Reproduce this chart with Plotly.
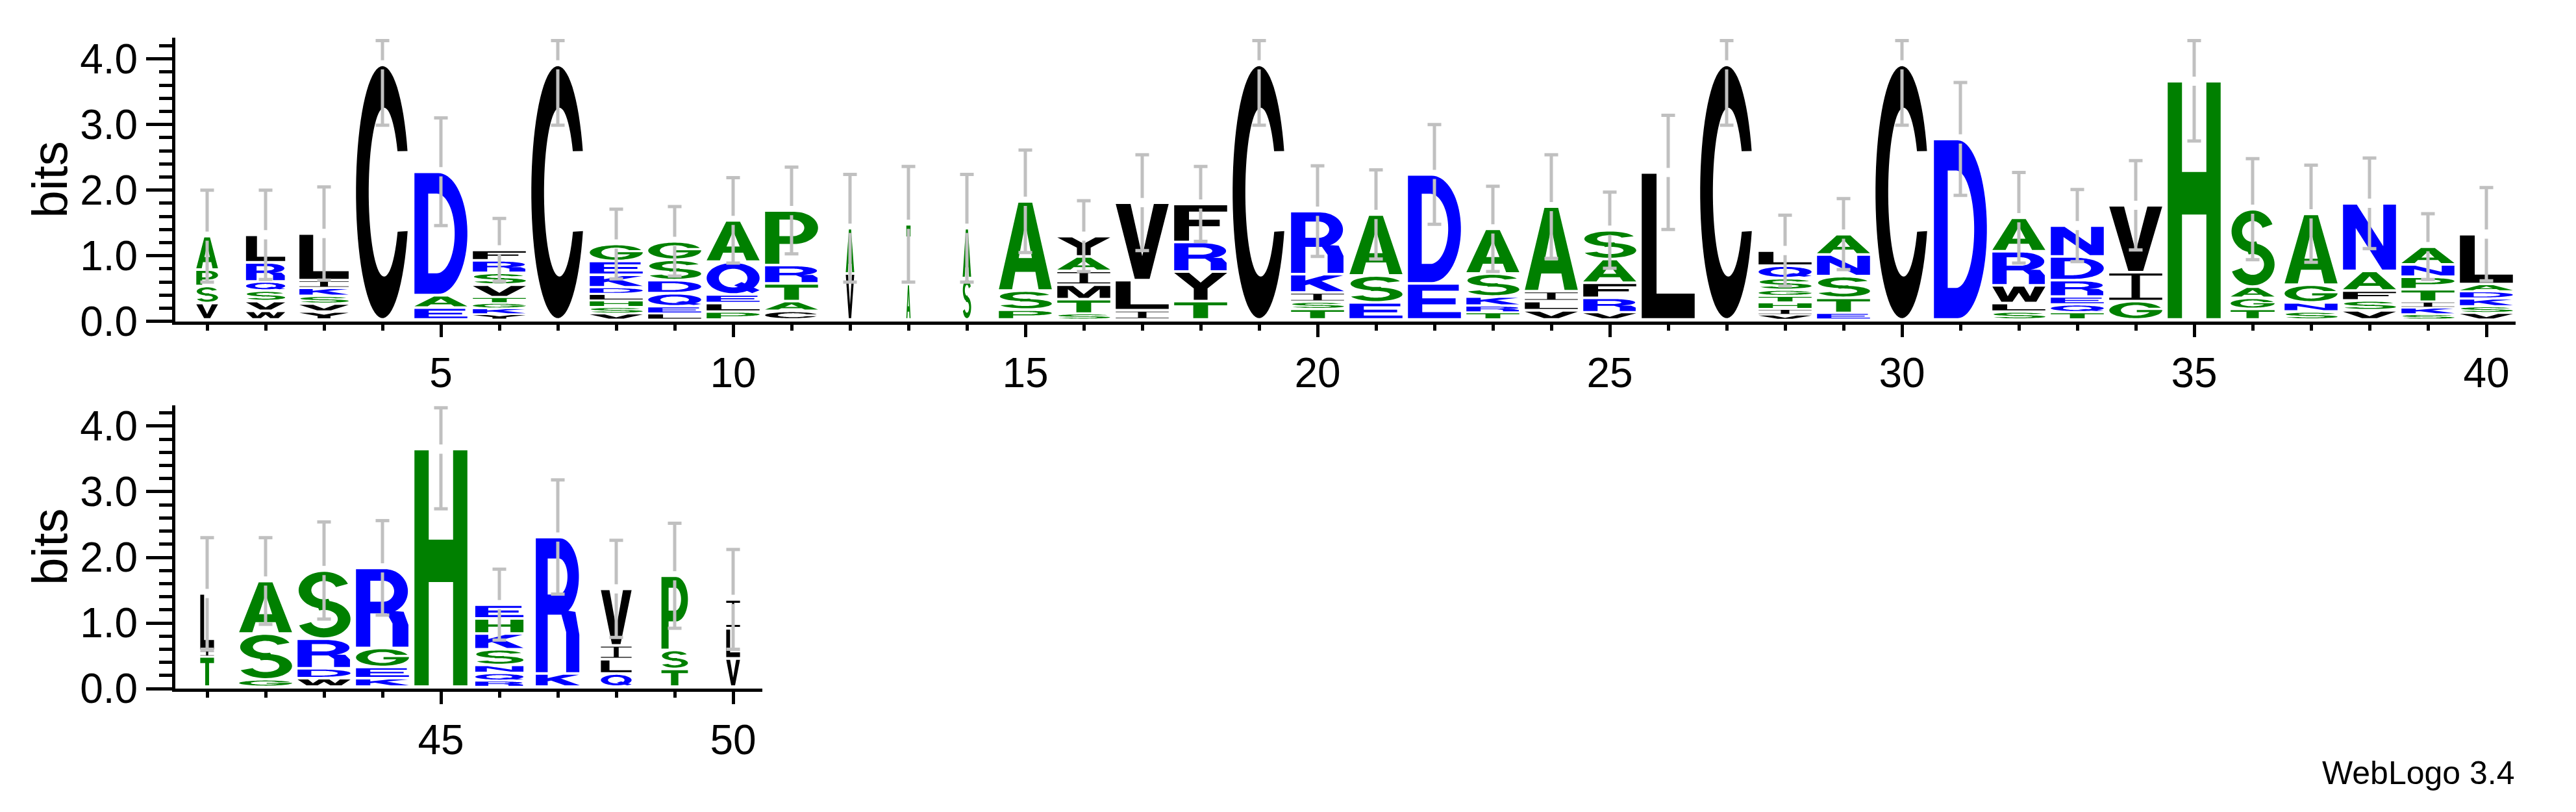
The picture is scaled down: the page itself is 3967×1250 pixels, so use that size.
import numpy as np
import plotly.graph_objects as go

positions = list(range(1, 51))
# letters of every stack, listed bottom -> top
stack_letters = [
    "VSPA", "WVSQRL", "YVSKIL", "C", "EAD", "YKGTVSRF", "C", "VSHLDKEG", "LEQDSG", "PLEQA",
    "CATRP", "VA", "AT", "SA", "PSA", "STMIAY", "ILV", "TYRF", "C", "TSIKR",
    "ESA", "ED", "TRKSA", "VLIA", "VRFAS", "L", "C", "VIHTGSQL", "ETSNA", "C",
    "D", "SLWRA", "TQERDN", "GIV", "H", "TGAS", "SNGA", "VSFAN", "SKITPNA", "VSKDAL",
    "TIL", "GSA", "WDRS", "KEGR", "H", "RQNSKHE", "KR", "QLIV", "TSP", "VLI",
]
# heights (bits) of the letters, same order as stack_letters
stack_heights = [
    [0.25, 0.26, 0.25, 0.51], [0.13, 0.15, 0.16, 0.14, 0.29, 0.42], [0.12, 0.12, 0.12, 0.12, 0.12, 0.71],
    [3.88], [0.18, 0.19, 1.88], [0.08, 0.09, 0.08, 0.09, 0.19, 0.18, 0.19, 0.16], [3.88],
    [0.09, 0.10, 0.10, 0.10, 0.10, 0.19, 0.21, 0.26], [0.09, 0.11, 0.20, 0.20, 0.31, 0.28],
    [0.12, 0.13, 0.13, 0.50, 0.63], [0.13, 0.15, 0.27, 0.28, 0.83], [0.70, 0.69], [0.54, 0.91],
    [0.63, 0.76], [0.15, 0.29, 1.36], [0.09, 0.22, 0.22, 0.21, 0.22, 0.31], [0.14, 0.46, 1.18],
    [0.28, 0.45, 0.45, 0.58], [3.88], [0.16, 0.11, 0.14, 0.28, 0.96], [0.26, 0.41, 0.93],
    [0.55, 1.66], [0.11, 0.10, 0.14, 0.35, 0.68], [0.14, 0.14, 0.15, 1.29], [0.11, 0.22, 0.23, 0.36, 0.44],
    [2.24], [3.88], [0.07, 0.09, 0.10, 0.10, 0.09, 0.18, 0.19, 0.23], [0.10, 0.23, 0.33, 0.33, 0.31],
    [3.88], [2.75], [0.12, 0.13, 0.27, 0.52, 0.51], [0.11, 0.12, 0.12, 0.25, 0.36, 0.47],
    [0.28, 0.44, 1.02], [3.63], [0.16, 0.17, 0.17, 1.18], [0.12, 0.14, 0.27, 1.08],
    [0.14, 0.15, 0.15, 0.30, 1.03], [0.08, 0.10, 0.09, 0.19, 0.19, 0.19, 0.27],
    [0.10, 0.10, 0.12, 0.11, 0.11, 0.76], [0.46, 0.09, 0.87], [0.11, 0.70, 0.80],
    [0.13, 0.15, 0.45, 1.04], [0.13, 0.17, 0.29, 1.22], [3.62],
    [0.09, 0.12, 0.12, 0.24, 0.24, 0.23, 0.21], [0.20, 2.08], [0.20, 0.22, 0.21, 0.86],
    [0.27, 0.29, 1.13], [0.43, 0.46, 0.44],
]
# fraction of sequences occupying each column (scales the stack width)
stack_widths = [
    0.41, 0.74, 0.93, 1, 1, 1, 1, 1, 1, 1,
    1, 0.16, 0.08, 0.16, 1, 1, 1, 1, 1, 1,
    1, 1, 1, 1, 1, 1, 1, 1, 1, 1,
    1, 1, 1, 1, 1, 0.83, 1, 1, 1, 1,
    0.26, 1, 1, 1, 1, 0.91, 0.83, 0.58, 0.50, 0.26,
]
# error-bar half lengths (bits)
error_bits = [
    0.70, 0.68, 0.71, 0.92, 0.82, 0.48, 0.92, 0.53, 0.53, 0.65,
    0.66, 0.82, 0.88, 0.82, 0.78, 0.54, 0.73, 0.57, 0.92, 0.69,
    0.68, 0.76, 0.65, 0.79, 0.58, 0.87, 0.92, 0.54, 0.54, 0.92,
    0.86, 0.69, 0.55, 0.68, 0.91, 0.77, 0.74, 0.69, 0.50, 0.71,
    0.85, 0.66, 0.74, 0.72, 0.91, 0.54, 0.87, 0.74, 0.80, 0.76,
]
row1_ticks = [5, 10, 15, 20, 25, 30, 35, 40]
row2_ticks = [45, 50]
y_ticks = [0, 1, 2, 3, 4]
Y_MAX = 4.32

# ---------------- style ----------------
BLUE, GREEN, BLACK = "#0000FF", "#008000", "#000000"
COLORS = {}
for c in "RKDENQ":
    COLORS[c] = BLUE
for c in "SGHTAP":
    COLORS[c] = GREEN
for c in "YVMCLFIW":
    COLORS[c] = BLACK
FONT = "Liberation Sans, Arial, Helvetica, sans-serif"
FULL_W = 0.906      # stack width (in position units) at full occupancy
BASE = 0.03         # letters sit just above the axis line
ERR_GAP = 0.07
CAP = 0.117
W_PX, H_PX = 3967, 1250


def rect(x0, y0, x1, y1):
    return [(x0, y0), (x1, y0), (x1, y1), (x0, y1)]


def arc(cx, cy, rx, ry, a0, a1, n=40):
    t = np.radians(np.linspace(a0, a1, n))
    return list(zip(cx + rx * np.cos(t), cy + ry * np.sin(t)))


def ring(cx, cy, rxo, ryo, rxi, ryi, a0, a1, n=40):
    return arc(cx, cy, rxo, ryo, a0, a1, n) + arc(cx, cy, rxi, ryi, a1, a0, n)


GLYPHS = {
    "A": [[(0, 0), (0.25, 0), (0.31, 0.2), (0.69, 0.2), (0.75, 0), (1, 0), (0.63, 1), (0.37, 1)],
          [(0.375, 0.36), (0.5, 0.76), (0.625, 0.36)]],
    "C": [arc(.5, .5, .5, .5, 19, 342, 70) + arc(.53, .5, .29, .335, 332, 29, 60)],
    "D": [[(0, 0), (0.45, 0)] + arc(0.45, 0.5, 0.55, 0.5, -90, 90) + [(0, 1)],
          [(0.26, 0.17), (0.26, 0.83), (0.42, 0.83)] + arc(0.42, 0.5, 0.34, 0.33, 90, -90)],
    "E": [rect(0, 0, 0.27, 1), rect(0, 0, 1, 0.18), rect(0, 0.41, 0.9, 0.59), rect(0, 0.82, 0.96, 1)],
    "F": [rect(0, 0, 0.28, 1), rect(0, 0.41, 0.86, 0.59), rect(0, 0.82, 1, 1)],
    "G": [arc(.5, .5, .5, .5, 19, 360, 70) + [(1, 0.52), (0.52, 0.52), (0.52, 0.38)]
          + arc(.5, .5, .28, .335, 339, 29, 60)],
    "H": [rect(0, 0, 0.27, 1), rect(0.73, 0, 1, 1), rect(0, 0.44, 1, 0.62)],
    "I": [rect(0, 0, 1, 0.08), rect(0, 0.92, 1, 1), rect(0.42, 0, 0.58, 1)],
    "K": [rect(0, 0, 0.27, 1), [(0.2, 0.32), (0.98, 1), (0.62, 1), (0.2, 0.62)],
          [(0.34, 0.46), (0.66, 0), (1, 0), (0.55, 0.68)]],
    "L": [rect(0, 0, 0.28, 1), rect(0, 0, 1, 0.17)],
    "M": [[(0, 0), (0.2, 0), (0.2, 0.72), (0.41, 0), (0.59, 0), (0.8, 0.72), (0.8, 0), (1, 0),
           (1, 1), (0.7, 1), (0.5, 0.3), (0.3, 1), (0, 1)]],
    "N": [[(0, 0), (0.24, 0), (0.24, 0.64), (0.74, 0), (1, 0), (1, 1), (0.76, 1), (0.76, 0.36),
           (0.26, 1), (0, 1)]],
    "P": [[(0, 0), (0.27, 0), (0.27, 0.38), (0.55, 0.38)] + arc(0.55, 0.69, 0.45, 0.31, -90, 90) + [(0, 1)],
          [(0.27, 0.53), (0.27, 0.85), (0.52, 0.85)] + arc(0.52, 0.69, 0.22, 0.16, 90, -90)],
    "Q": [arc(.5, .5, .5, .5, 0, 360, 80), arc(.5, .5, .27, .31, 360, 0, 70),
          [(0.52, 0.26), (0.86, 0.0), (1.0, 0.1), (0.66, 0.37)]],
    "R": [[(0, 0), (0.27, 0), (0.27, 0.43), (0.55, 0.43)] + arc(0.55, 0.715, 0.43, 0.285, -90, 90) + [(0, 1)],
          [(0.27, 0.58), (0.27, 0.85), (0.52, 0.85)] + arc(0.52, 0.715, 0.2, 0.135, 90, -90),
          [(0.69, 0), (0.99, 0), (0.99, 0.28), (0.9, 0.45), (0.55, 0.47), (0.69, 0.3)]],
    "S": [ring(0.5, 0.72, 0.48, 0.28, 0.24, 0.14, 20, 290), ring(0.5, 0.28, 0.5, 0.28, 0.26, 0.14, 200, 470)],
    "T": [rect(0, 0.81, 1, 1), rect(0.36, 0, 0.64, 1)],
    "V": [[(0, 1), (0.36, 0), (0.64, 0), (1, 1), (0.72, 1), (0.5, 0.3), (0.28, 1)]],
    "W": [[(0, 1), (0.17, 0), (0.38, 0), (0.5, 0.6), (0.62, 0), (0.83, 0), (1, 1), (0.8, 1),
           (0.71, 0.36), (0.6, 1), (0.4, 1), (0.29, 0.36), (0.2, 1)]],
    "Y": [[(0, 1), (0.37, 0.42), (0.37, 0), (0.63, 0), (0.63, 0.42), (1, 1), (0.72, 1),
           (0.5, 0.64), (0.28, 1)]],
}


def glyph_path(ch, x0, x1, y0, y1):
    parts = []
    for poly in GLYPHS[ch]:
        pts = ["%.4f,%.4f" % (x0 + u * (x1 - x0), y0 + v * (y1 - y0)) for u, v in poly]
        parts.append("M" + "L".join(pts) + "Z")
    return "".join(parts)


fig = go.Figure()
shapes = []
err_x = {1: [], 2: []}
err_y = {1: [], 2: []}

for i, pos in enumerate(positions):
    row = 1 if pos <= 40 else 2
    xr, yr = ("x", "y") if row == 1 else ("x2", "y2")
    half = FULL_W * stack_widths[i] / 2
    y = BASE
    for ch, h in zip(stack_letters[i], stack_heights[i]):
        g = min(0.04, 0.3 * h)
        shapes.append(dict(type="path", xref=xr, yref=yr, layer="below", fillrule="nonzero",
                           path=glyph_path(ch, pos - half, pos + half, y + g / 2, y + h - g / 2),
                           fillcolor=COLORS[ch], line=dict(width=0)))
        y += h
    top = y
    e = error_bits[i]
    hi = min(4.28, top + e)
    lo = max(BASE, top - e)
    xs, ys = err_x[row], err_y[row]
    xs += [pos, pos, None, pos, pos, None, pos - CAP, pos + CAP, None, pos - CAP, pos + CAP, None]
    ys += [hi, top + ERR_GAP, None, top - ERR_GAP, lo, None, hi, hi, None, lo, lo, None]

for row in (1, 2):
    fig.add_trace(go.Scatter(x=err_x[row], y=err_y[row], mode="lines",
                             line=dict(color="#C0C0C0", width=5), hoverinfo="skip",
                             xaxis="x" if row == 1 else "x2", yaxis="y" if row == 1 else "y2"))

x_left = 262
unit = 90.0
axis_common = dict(showgrid=False, zeroline=False, showline=True, linecolor=BLACK, linewidth=5,
                   ticks="outside", tickcolor=BLACK, tickwidth=5,
                   tickfont=dict(family=FONT, size=64, color=BLACK))

x_start1 = 0.5 - 4 / unit
x_end1 = 40.5
x_start2 = 40.5 - 4 / unit
x_end2 = 50.5
xdom1 = [x_left / W_PX, (x_left + (x_end1 - x_start1) * unit) / W_PX]
xdom2 = [x_left / W_PX, (x_left + (x_end2 - x_start2) * unit) / W_PX]
y0_row1, y0_row2 = 500, 1083
px_per_bit = 104.2
ydom1 = [1 - y0_row1 / H_PX, 1 - (y0_row1 - Y_MAX * px_per_bit) / H_PX]
ydom2 = [1 - y0_row2 / H_PX, 1 - (y0_row2 - Y_MAX * px_per_bit) / H_PX]

minor_y = [round(0.2 * k, 1) for k in range(1, 22) if k % 5 != 0]

fig.update_layout(
    width=W_PX, height=H_PX, autosize=False,
    margin=dict(l=0, r=0, t=0, b=0),
    paper_bgcolor="white", plot_bgcolor="white", showlegend=False,
    shapes=shapes,
    xaxis=dict(domain=xdom1, range=[x_start1, x_end1], anchor="y",
               tickmode="array", tickvals=row1_ticks, ticktext=[str(t) for t in row1_ticks], ticklen=19,
               minor=dict(tickmode="array", tickvals=positions[:40], ticks="outside", ticklen=9,
                          tickwidth=5, tickcolor=BLACK), **axis_common),
    yaxis=dict(domain=ydom1, range=[0, Y_MAX], anchor="x",
               tickmode="array", tickvals=y_ticks, ticktext=["%.1f" % t for t in y_ticks], ticklen=40,
               minor=dict(tickmode="array", tickvals=minor_y, ticks="outside", ticklen=20,
                          tickwidth=5, tickcolor=BLACK), **axis_common),
    xaxis2=dict(domain=xdom2, range=[x_start2, x_end2], anchor="y2",
                tickmode="array", tickvals=row2_ticks, ticktext=[str(t) for t in row2_ticks], ticklen=19,
                minor=dict(tickmode="array", tickvals=positions[40:], ticks="outside", ticklen=9,
                           tickwidth=5, tickcolor=BLACK), **axis_common),
    yaxis2=dict(domain=ydom2, range=[0, Y_MAX], anchor="x2",
                tickmode="array", tickvals=y_ticks, ticktext=["%.1f" % t for t in y_ticks], ticklen=40,
                minor=dict(tickmode="array", tickvals=minor_y, ticks="outside", ticklen=20,
                           tickwidth=5, tickcolor=BLACK), **axis_common),
    annotations=[
        dict(text="bits", xref="paper", yref="paper", x=69 / W_PX, y=sum(ydom1) / 2, textangle=-90,
             showarrow=False, xanchor="center", yanchor="middle", font=dict(family=FONT, size=76, color=BLACK)),
        dict(text="bits", xref="paper", yref="paper", x=69 / W_PX, y=sum(ydom2) / 2, textangle=-90,
             showarrow=False, xanchor="center", yanchor="middle", font=dict(family=FONT, size=76, color=BLACK)),
        dict(text="WebLogo 3.4", xref="paper", yref="paper", x=3867 / W_PX, y=1 - 1217 / H_PX,
             showarrow=False, xanchor="right", yanchor="middle", font=dict(family=FONT, size=50, color=BLACK)),
    ],
)

fig.write_html("out.html")
